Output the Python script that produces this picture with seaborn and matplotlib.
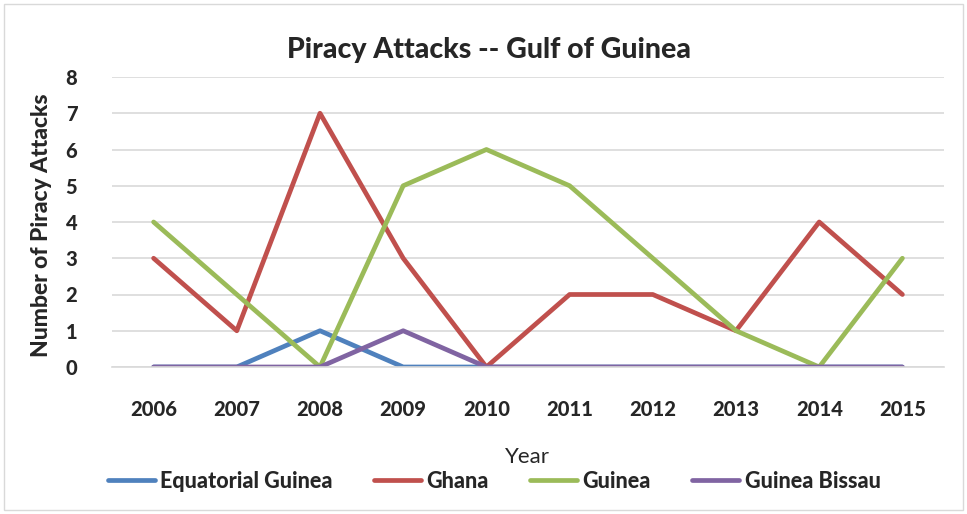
import matplotlib
matplotlib.use("Agg")
import matplotlib.pyplot as plt
import seaborn as sns
import pandas as pd
from matplotlib.patches import Rectangle

years = [2006, 2007, 2008, 2009, 2010, 2011, 2012, 2013, 2014, 2015]
equatorial_guinea = [0, 0, 1, 0, 0, 0, 0, 0, 0, 0]
ghana = [3, 1, 7, 3, 0, 2, 2, 1, 4, 2]
guinea = [4, 2, 0, 5, 6, 5, 3, 1, 0, 3]
guinea_bissau = [0, 0, 0, 1, 0, 0, 0, 0, 0, 0]
series_names = ["Equatorial Guinea", "Ghana", "Guinea", "Guinea Bissau"]
colors = ["#4F81BD", "#C0504D", "#9BBB59", "#8064A2"]

rows = []
for name, vals in zip(series_names, [equatorial_guinea, ghana, guinea, guinea_bissau]):
    for y, v in zip(years, vals):
        rows.append({"Year": y, "Attacks": v, "Country": name})
df = pd.DataFrame(rows)

sns.set_style("white")
plt.rcParams['font.family'] = ['Lato', 'DejaVu Sans']
BW = 900

fig = plt.figure(figsize=(9.67, 5.14), dpi=100)
ax = fig.add_axes([112/967, 1-367/514, (944-112)/967, (367-77)/514])

sns.lineplot(data=df, x="Year", y="Attacks", hue="Country", hue_order=series_names,
             palette=colors, linewidth=3.4, ax=ax, legend=True, solid_capstyle="round")

ax.set_xlim(years[0]-0.5, years[-1]+0.5)
ax.set_ylim(0, 8)
ax.set_yticks(range(0, 9))
ax.set_xticks(years)
ax.set_xticklabels([str(y) for y in years], fontsize=14.5, fontweight=BW)
ax.set_yticklabels([str(i) for i in range(0, 9)], fontsize=14.5, fontweight=BW)
ax.tick_params(axis="both", length=0)
ax.tick_params(axis="x", pad=24)
ax.tick_params(axis="y", pad=25)
ax.grid(axis="y", color="#D9D9D9", linewidth=1.2)
ax.set_axisbelow(True)
for s in ["top", "right", "left"]:
    ax.spines[s].set_visible(False)
ax.spines["bottom"].set_color("#D9D9D9")
ax.spines["bottom"].set_linewidth(1.2)
ax.set_xlabel("")
ax.set_ylabel("")

fig.text(489/967, 1-50/514, "Piracy Attacks -- Gulf of Guinea", ha="center", va="center",
         fontsize=20.5, fontweight=BW)
fig.text(42/967, 1-225/514, "Number of Piracy Attacks", ha="center", va="center",
         rotation=90, fontsize=16.5, fontweight=BW)
fig.text(527/967, 1-457/514, "Year", ha="center", va="center", fontsize=16)

handles, labels = ax.get_legend_handles_labels()
ax.legend_.remove()
leg = fig.legend(handles, labels, loc="center", bbox_to_anchor=(494/967, 1-481/514),
                 ncol=4, frameon=False, handlelength=2.2, handletextpad=0.25,
                 columnspacing=1.9, prop={"weight": BW, "size": 15.5})
for h in leg.get_lines():
    h.set_linewidth(3.4)

fig.patches.append(Rectangle((4/967, 4/514), 1-8/967, 1-8/514, transform=fig.transFigure,
                             fill=False, edgecolor="#D9D9D9", linewidth=1))

fig.savefig("out.png", dpi=100)
